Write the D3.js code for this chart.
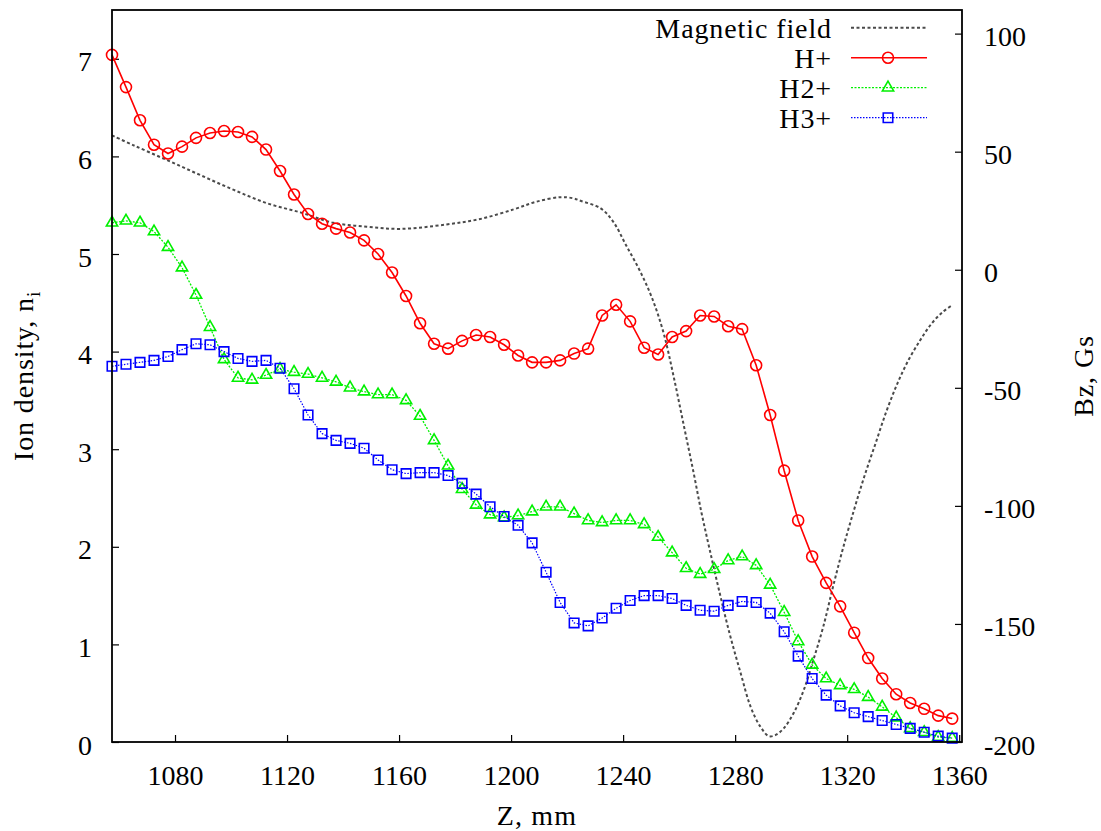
<!DOCTYPE html>
<html>
<head>
<meta charset="utf-8">
<script src="https://cdn.jsdelivr.net/npm/d3@7"></script>
<style>
  body { margin: 0; background: #fff; }
  svg text { font-family: "Liberation Serif", "Times New Roman", serif; fill: #000; }
</style>
</head>
<body>
<div id="chart"></div>
<script>
// positions along Z (mm) of the ion density samples
const zPos = [1057.5, 1062.5, 1067.5, 1072.5, 1077.5, 1082.5, 1087.5, 1092.5, 1097.5, 1102.5,
  1107.5, 1112.5, 1117.5, 1122.5, 1127.5, 1132.5, 1137.5, 1142.5, 1147.5, 1152.5,
  1157.5, 1162.5, 1167.5, 1172.5, 1177.5, 1182.5, 1187.5, 1192.5, 1197.5, 1202.5,
  1207.5, 1212.5, 1217.5, 1222.5, 1227.5, 1232.5, 1237.5, 1242.5, 1247.5, 1252.5,
  1257.5, 1262.5, 1267.5, 1272.5, 1277.5, 1282.5, 1287.5, 1292.5, 1297.5, 1302.5,
  1307.5, 1312.5, 1317.5, 1322.5, 1327.5, 1332.5, 1337.5, 1342.5, 1347.5, 1352.5, 1357.5];

const hPlus = [7.04, 6.71, 6.37, 6.12, 6.03, 6.10, 6.19, 6.24, 6.26, 6.25,
  6.20, 6.07, 5.85, 5.61, 5.41, 5.31, 5.26, 5.22, 5.14, 5.00,
  4.81, 4.57, 4.29, 4.08, 4.03, 4.11, 4.17, 4.15, 4.07, 3.96,
  3.89, 3.89, 3.91, 3.98, 4.03, 4.37, 4.48, 4.31, 4.04, 3.97,
  4.15, 4.21, 4.37, 4.36, 4.26, 4.23, 3.86, 3.35, 2.78, 2.27,
  1.90, 1.63, 1.39, 1.12, 0.86, 0.65, 0.49, 0.40, 0.34, 0.27, 0.24];

const h2Plus = [5.32, 5.34, 5.32, 5.23, 5.07, 4.86, 4.58, 4.25, 3.92, 3.73,
  3.71, 3.76, 3.82, 3.79, 3.77, 3.73, 3.69, 3.63, 3.59, 3.56,
  3.56, 3.50, 3.34, 3.09, 2.83, 2.59, 2.43, 2.33, 2.30, 2.32,
  2.36, 2.41, 2.41, 2.34, 2.27, 2.25, 2.27, 2.27, 2.23, 2.10,
  1.94, 1.78, 1.72, 1.77, 1.86, 1.90, 1.81, 1.61, 1.33, 1.03,
  0.79, 0.65, 0.58, 0.54, 0.46, 0.36, 0.25, 0.14, 0.10, 0.05, 0.04];

const h3Plus = [3.85, 3.87, 3.89, 3.91, 3.95, 4.02, 4.08, 4.07, 4.00, 3.93,
  3.90, 3.91, 3.83, 3.62, 3.35, 3.16, 3.09, 3.06, 3.01, 2.89,
  2.79, 2.75, 2.76, 2.76, 2.73, 2.65, 2.54, 2.41, 2.31, 2.22,
  2.04, 1.74, 1.43, 1.22, 1.19, 1.27, 1.37, 1.45, 1.50, 1.50,
  1.47, 1.40, 1.35, 1.34, 1.40, 1.44, 1.43, 1.32, 1.13, 0.88,
  0.65, 0.48, 0.37, 0.30, 0.26, 0.22, 0.18, 0.14, 0.10, 0.06, 0.04];

// magnetic field Bz (Gs) on the right axis
const fieldZ = [1057.5, 1065, 1077, 1089, 1101, 1113, 1125, 1136.5, 1148.5, 1160.5,
  1177, 1189, 1201, 1209, 1217.5, 1222, 1225, 1232, 1236.5, 1241,
  1246, 1250.5, 1254.5, 1258, 1261.5, 1265, 1268, 1271, 1274.5, 1278,
  1282, 1285.5, 1289, 1292, 1294.5, 1297.5, 1301, 1304.5, 1308, 1311.5,
  1315, 1318.5, 1322.5, 1326, 1330, 1334, 1338, 1342, 1346, 1350, 1354, 1357.5];
const fieldB = [56.9, 52.8, 46.5, 40.1, 33.8, 28.1, 24.2, 19.9, 18.2, 17.3,
  19.2, 21.5, 25.6, 28.8, 30.7, 30.3, 29.1, 26.0, 20.3, 10.5,
  -0.5, -12.5, -27, -45, -65, -85, -103, -119, -137, -154,
  -171, -185, -193.5, -197.5, -197, -194, -187.5, -178, -165, -151,
  -134, -118, -101.5, -88, -74, -60, -48, -38, -30, -23, -18, -15];

const xTicks = [1080, 1120, 1160, 1200, 1240, 1280, 1320, 1360];
const yTicks = [0, 1, 2, 3, 4, 5, 6, 7];
const y2Ticks = [-200, -150, -100, -50, 0, 50, 100];
const legendNames = ["Magnetic field", "H+", "H2+", "H3+"];

const width = 1101, height = 831;
const margin = { top: 10, right: 139, bottom: 89, left: 112 };
const plotW = width - margin.left - margin.right;
const plotH = height - margin.top - margin.bottom;

const svg = d3.select("#chart")
  .append("svg")
  .attr("width", width)
  .attr("height", height);

const g = svg.append("g")
  .attr("transform", `translate(${margin.left},${margin.top})`);

const x = d3.scaleLinear().domain([1057.5, 1361]).range([0, plotW]);
const y = d3.scaleLinear().domain([0, 7.5]).range([plotH, 0]);
const y2 = d3.scaleLinear().domain([-200, 110]).range([plotH, 0]);

const fmt = d => (d < 0 ? "-" + Math.abs(d) : String(d));

// axes, ticks pointing inwards like gnuplot
const xAxis = g.append("g")
  .attr("transform", `translate(0,${plotH})`)
  .call(d3.axisBottom(x).tickValues(xTicks).tickSizeInner(-7).tickSizeOuter(0).tickPadding(23).tickFormat(fmt));
const yAxis = g.append("g")
  .call(d3.axisLeft(y).tickValues(yTicks).tickSizeInner(-7).tickSizeOuter(0).tickPadding(20).tickFormat(fmt));
const y2Axis = g.append("g")
  .attr("transform", `translate(${plotW},0)`)
  .call(d3.axisRight(y2).tickValues(y2Ticks).tickSizeInner(-7).tickSizeOuter(0).tickPadding(22).tickFormat(fmt));

[xAxis, yAxis, y2Axis].forEach(a => {
  a.select(".domain").remove();
  a.selectAll(".tick line").attr("stroke", "#000").attr("stroke-width", 1.2);
  a.selectAll(".tick text").attr("font-size", 28).style("font-family", '"Liberation Serif", serif');
});
yAxis.selectAll(".tick text").attr("dy", "0.43em");
y2Axis.selectAll(".tick text").attr("dy", "0.43em");

const data = zPos.map((z, i) => ({ z: z, h1: hPlus[i], h2: h2Plus[i], h3: h3Plus[i] }));
const field = fieldZ.map((z, i) => ({ z: z, b: fieldB[i] }));

// magnetic field
g.append("path")
  .datum(field)
  .attr("fill", "none")
  .attr("stroke", "#4a4a4a")
  .attr("stroke-width", 2)
  .attr("stroke-dasharray", "3,2.5")
  .attr("d", d3.line().x(d => x(d.z)).y(d => y2(d.b)).curve(d3.curveCatmullRom));

const series = [
  { key: "h1", color: "#ff0000", width: 1.6, dash: null, symbol: "circle" },
  { key: "h2", color: "#00f000", width: 1.3, dash: "2,1.5", symbol: "triangle" },
  { key: "h3", color: "#0000ff", width: 1.2, dash: "1.5,1.5", symbol: "square" }
];

function drawMarker(sel, s) {
  if (s.symbol === "circle") {
    sel.append("circle").attr("r", 5.5);
  } else if (s.symbol === "triangle") {
    sel.append("path").attr("d", d3.symbol(d3.symbolTriangle, 55)());
  } else {
    sel.append("path").attr("d", d3.symbol(d3.symbolSquare, 90)());
  }
  sel.selectAll("circle, path")
    .attr("fill", "none")
    .attr("stroke", s.color)
    .attr("stroke-width", 1.6);
}

series.forEach(s => {
  g.append("path")
    .datum(data)
    .attr("fill", "none")
    .attr("stroke", s.color)
    .attr("stroke-width", s.width)
    .attr("stroke-dasharray", s.dash)
    .attr("d", d3.line().x(d => x(d.z)).y(d => y(d[s.key])));

  g.append("g").selectAll("g")
    .data(data)
    .enter().append("g")
    .attr("transform", d => `translate(${x(d.z)},${y(d[s.key])})`)
    .each(function () { drawMarker(d3.select(this), s); });
});

// frame
g.append("rect")
  .attr("width", plotW)
  .attr("height", plotH)
  .attr("fill", "none")
  .attr("stroke", "#000")
  .attr("stroke-width", 1.8);

// legend
const legend = g.append("g").attr("transform", `translate(${720 - margin.left},0)`);
const legendStyles = [
  { color: "#4a4a4a", width: 2, dash: "3,2.5", symbol: null },
  series[0], series[1], series[2]
];
legendNames.forEach((name, i) => {
  const ly = 17.7 + i * 30;
  const row = legend.append("g").attr("transform", `translate(0,${ly})`);
  row.append("text")
    .attr("x", 112)
    .attr("y", 10)
    .attr("text-anchor", "end")
    .attr("font-size", 28)
    .style("letter-spacing", "0.9px")
    .text(name);
  const st = legendStyles[i];
  row.append("line")
    .attr("x1", 131).attr("x2", 207)
    .attr("stroke", st.color)
    .attr("stroke-width", st.width)
    .attr("stroke-dasharray", st.dash);
  if (st.symbol) {
    const m = row.append("g").attr("transform", "translate(168,0)");
    drawMarker(m, st);
  }
});

// axis titles
svg.append("text")
  .attr("x", margin.left + plotW / 2)
  .attr("y", 825)
  .attr("text-anchor", "middle")
  .attr("font-size", 28)
  .style("letter-spacing", "1.2px")
  .text("Z, mm");

const yTitle = svg.append("text")
  .attr("transform", `translate(33,${margin.top + plotH / 2}) rotate(-90)`)
  .attr("text-anchor", "middle")
  .attr("font-size", 28)
  .style("letter-spacing", "0.9px");
yTitle.append("tspan").text("Ion density, n");
yTitle.append("tspan").attr("font-size", 19).attr("dy", 7).text("i");

svg.append("text")
  .attr("transform", `translate(1093,${margin.top + plotH / 2}) rotate(-90)`)
  .attr("text-anchor", "middle")
  .attr("font-size", 28)
  .style("letter-spacing", "0.9px")
  .text("Bz, Gs");
</script>
</body>
</html>
